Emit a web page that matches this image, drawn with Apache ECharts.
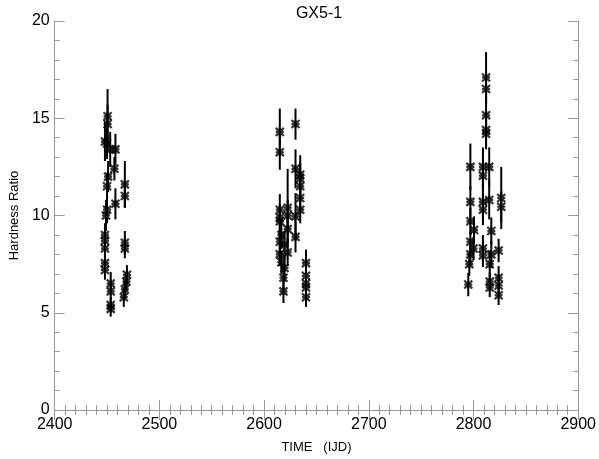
<!DOCTYPE html>
<html><head><meta charset="utf-8">
<script src="https://cdn.jsdelivr.net/npm/echarts@6/dist/echarts.min.js"></script>
<style>html,body{margin:0;padding:0;background:#fff}#c{width:599px;height:459px}</style>
</head><body><div id="c"></div>
<script>
var times = [
  2450.5,2450.5,2448,2450,2453,2458,2457,2451,2450,2467,2467,2458,2450,2449,2448,2448,2448,2467,2467,2448,2448,2453.5,2453.5,2453.5,2453.5,2469,2468.5,2467,2466,
  2615,2615,2630,2630,2634.5,2634.5,2634.5,2634.5,2622.5,2634.5,2615,2615,2622.5,2630,2615,2622.5,2616.5,2630,2615,2619.5,2622.5,2615,2616.5,2619.5,2618.5,2618.5,2640,2640,2640,2640,2640,
  2812,2812,2812,2812,2812,2797,2809,2815,2809,2797,2809,2815,2809,2826.5,2826.5,2797,2800.5,2817,2797,2800,2797,2796,2809,2809,2824,2817,2815.5,2795,2815.5,2815.5,2824,2824,2824
];
var ratios = [
  15.1,14.7,13.8,13.7,13.4,13.4,12.4,12.0,11.5,11.6,11.0,10.6,10.3,10.0,9.0,8.7,8.3,8.6,8.3,7.55,7.2,6.5,6.1,5.4,5.2,6.95,6.6,6.2,5.8,
  14.3,13.25,14.7,12.4,12.1,11.9,11.5,10.9,10.4,10.3,10.3,9.9,10.0,9.95,9.7,9.3,9.0,8.9,8.65,8.5,8.1,8.0,7.6,7.3,6.8,6.1,7.55,6.9,6.5,6.3,5.8,
  17.1,16.5,15.15,14.4,14.2,12.5,12.5,12.5,12.05,10.7,10.7,10.8,10.3,10.9,10.45,9.7,9.25,9.2,8.65,8.3,8.0,7.5,8.3,7.95,8.2,8.0,7.5,6.45,6.6,6.3,6.8,6.4,5.9
];
var errors = [
  1.4,1.0,1.0,0.8,0.9,0.8,0.6,0.8,0.7,1.2,0.6,0.8,0.7,0.8,0.6,0.5,0.5,0.6,0.5,0.5,0.5,0.6,0.5,0.4,0.4,0.5,0.5,0.5,0.5,
  1.2,0.9,0.8,1.0,1.0,0.8,0.8,0.8,2.0,0.7,0.8,0.7,0.8,1.2,0.7,0.7,0.7,0.8,0.6,0.7,0.7,0.6,0.6,0.7,0.6,0.6,0.7,0.6,0.6,0.5,0.5,
  1.3,0.8,0.9,0.8,0.8,1.2,1.0,1.0,0.8,0.8,0.9,1.0,0.8,1.6,0.8,0.7,0.7,0.7,0.6,0.6,0.6,0.6,0.7,0.6,0.6,0.7,0.7,0.6,0.5,0.5,0.6,0.5,0.5
];
var xTicks = ['2400','2500','2600','2700','2800','2900'];
var yTicks = ['0','5','10','15','20'];

var pts = times.map(function(t,i){return [t, ratios[i]];});
var bars = times.map(function(t,i){return [t, ratios[i]-errors[i], ratios[i]+errors[i]];});

var FONT = 'Liberation Sans';
var axisGrey = '#999';
function xAx(pos, show){
  return {type:'value', position:pos, min:2400, max:2900, interval:100,
    axisLine:{show:true, lineStyle:{color:axisGrey, width:1}},
    axisTick:{show:true, inside:true, length:10, lineStyle:{color:axisGrey}},
    minorTick:{show:true, splitNumber:10, length:5, lineStyle:{color:axisGrey}},
    splitLine:{show:false},
    axisLabel:{show:show, color:'#000', fontFamily:FONT, fontSize:16, margin:7,
      formatter:function(v){ return xTicks[Math.round((v-2400)/100)]; }},
    name: show ? 'TIME   (IJD)' : '', nameLocation:'middle', nameGap:31,
    nameTextStyle:{color:'#000', fontFamily:FONT, fontSize:13}};
}
function yAx(pos, show){
  return {type:'value', position:pos, min:0, max:20, interval:5,
    axisLine:{show:true, lineStyle:{color:axisGrey, width:1}},
    axisTick:{show:true, inside:true, length:10, lineStyle:{color:axisGrey}},
    minorTick:{show:true, splitNumber:5, length:5, lineStyle:{color:axisGrey}},
    splitLine:{show:false},
    axisLabel:{show:show, color:'#000', fontFamily:FONT, fontSize:16, margin:5,
      formatter:function(v){ return yTicks[Math.round(v/5)]; }},
    name: show ? 'Hardness Ratio' : '', nameLocation:'middle', nameGap:31,
    nameTextStyle:{color:'#000', fontFamily:FONT, fontSize:13}};
}
var chart = echarts.init(document.getElementById('c'));
chart.setOption({
  animation:false,
  backgroundColor:'#fff',
  title:{text:'GX5-1', left:314, textAlign:'center', top:1,
    textStyle:{color:'#000', fontFamily:FONT, fontSize:16, fontWeight:'normal'}},
  grid:{left:48, right:19, top:21, bottom:46},
  xAxis:[xAx('bottom', true), xAx('top', false)],
  yAxis:[yAx('left', true), yAx('right', false)],
  series:[
    {type:'custom', xAxisIndex:0, yAxisIndex:0, data:bars,
      renderItem:function(params, api){
        var a = api.coord([api.value(0), api.value(1)]);
        var b = api.coord([api.value(0), api.value(2)]);
        return {type:'line', shape:{x1:a[0], y1:a[1], x2:b[0], y2:b[1]},
          style:{stroke:'#000', lineWidth:2}};
      }, z:2},
    {type:'scatter', xAxisIndex:0, yAxisIndex:0, data:pts,
      symbol:'path://M0,0L10,10M10,0L0,10M0,5L10,5M5,0L5,10', symbolSize:8,
      itemStyle:{color:'none', borderColor:'#000', borderWidth:2.2}, z:3}
  ]
});
</script></body></html>
